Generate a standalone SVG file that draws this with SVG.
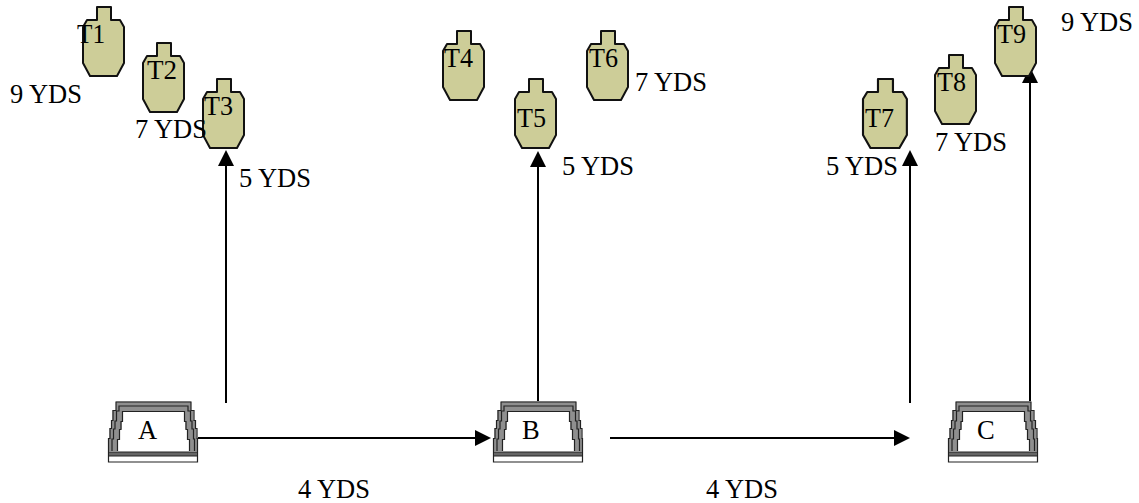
<svg xmlns="http://www.w3.org/2000/svg" width="1139" height="503" viewBox="0 0 1139 503">
<style>
text{font-family:"Liberation Serif","Times New Roman",serif;font-size:26.500px;fill:#000}
.t{fill:#cdcd98;stroke:#111;stroke-width:2;stroke-linejoin:round}
.c{stroke:#000;stroke-width:2;fill:none}
.h{fill:#000;stroke:none}
.o{fill:none;stroke:#222;stroke-width:1.2}
</style>
<defs>
<path id="tg" class="t" d="M14 1H28V14H37L41 21V57L34 70H7L0 57V21L4 14H14Z"/>
<g id="tray">
<path d="M8 0H83L90 50V61H0V50Z" fill="#fff" stroke="none"/>
<path d="M8 0.500H83V9H85.500V19H87V27H88.500V37H90V50H0V37H1.500V27H3V19H4.500V9H8Z M15 10H76V20H77.500V28H79V38H81V50H10V38H12V28H13.500V20H15Z" fill="#8f8f8f" fill-rule="evenodd" stroke="none"/>
<path class="o" d="M0.500 50V37.500H2V27.500H3.500V19.500H5V9.500H8V1H83V9.500H86V19.500H87.500V27.500H89V37.500H89.500V50"/>
<path class="o" d="M4 50V38H5.500V28H7V20H8.500V10H11V5H80V10H82.500V20H84V28H85.500V38H86.500V50"/>
<path class="o" d="M9.500 50V38.500H11.500V28.500H13V20.500H14.500V10.500H76.500V20.500H78V28.500H79.500V38.500H81.500V50"/>
<path class="o" d="M0.500 50V61H89.500V50"/>
<path d="M0.500 51H89.500V55H0.500Z" fill="#666" stroke="#222"/>
</g>
</defs>
<g id="connectors">
<path class="c" d="M226 403V164"/><path class="h" d="M226 150L234 166H218Z"/>
<path class="c" d="M538 401V165"/><path class="h" d="M538 151L546 167H530Z"/>
<path class="c" d="M910 403V164"/><path class="h" d="M910 150L918 166H902Z"/>
<path class="c" d="M1030 403V81"/><path class="h" d="M1030 67L1038 83H1022Z"/>
<path class="c" d="M198 438H476"/><path class="h" d="M491 438L475 430V446Z"/>
<path class="c" d="M610 438H896"/><path class="h" d="M910 438L894 430V446Z"/>
</g>
<g id="T1"><use href="#tg" x="83" y="6"/><text x="77" y="43" textLength="28" lengthAdjust="spacingAndGlyphs">T1</text></g>
<g id="T2"><use href="#tg" x="143" y="42"/><text x="147" y="79" textLength="30" lengthAdjust="spacingAndGlyphs">T2</text></g>
<g id="T3"><use href="#tg" x="203" y="78"/><text x="204" y="115" textLength="29" lengthAdjust="spacingAndGlyphs">T3</text></g>
<g id="T4"><use href="#tg" x="443" y="30"/><text x="444" y="67" textLength="29" lengthAdjust="spacingAndGlyphs">T4</text></g>
<g id="T5"><use href="#tg" x="515" y="78"/><text x="517" y="127" textLength="29" lengthAdjust="spacingAndGlyphs">T5</text></g>
<g id="T6"><use href="#tg" x="587" y="30"/><text x="589" y="67" textLength="29" lengthAdjust="spacingAndGlyphs">T6</text></g>
<g id="T7"><use href="#tg" transform="translate(863 78) scale(1.07 1)"/><text x="865" y="127" textLength="29" lengthAdjust="spacingAndGlyphs">T7</text></g>
<g id="T8"><use href="#tg" x="935" y="54"/><text x="937" y="91" textLength="29" lengthAdjust="spacingAndGlyphs">T8</text></g>
<g id="T9"><use href="#tg" x="995" y="6"/><text x="997" y="43" textLength="29" lengthAdjust="spacingAndGlyphs">T9</text></g>
<g id="A"><use href="#tray" x="108" y="401"/><text x="138" y="439">A</text></g>
<g id="B"><use href="#tray" x="493" y="401"/><text x="522" y="439">B</text></g>
<g id="C"><use href="#tray" x="948" y="401"/><text x="977" y="439">C</text></g>
<g id="labels">
<text x="10" y="103" textLength="72">9 YDS</text>
<text x="135" y="138" textLength="72">7 YDS</text>
<text x="239" y="187" textLength="72">5 YDS</text>
<text x="562" y="175" textLength="72">5 YDS</text>
<text x="635" y="91" textLength="72">7 YDS</text>
<text x="826" y="175" textLength="72">5 YDS</text>
<text x="935" y="151" textLength="72">7 YDS</text>
<text x="1061" y="31" textLength="72">9 YDS</text>
<text x="298" y="498" textLength="72">4 YDS</text>
<text x="706" y="498" textLength="72">4 YDS</text>
</g>
</svg>
